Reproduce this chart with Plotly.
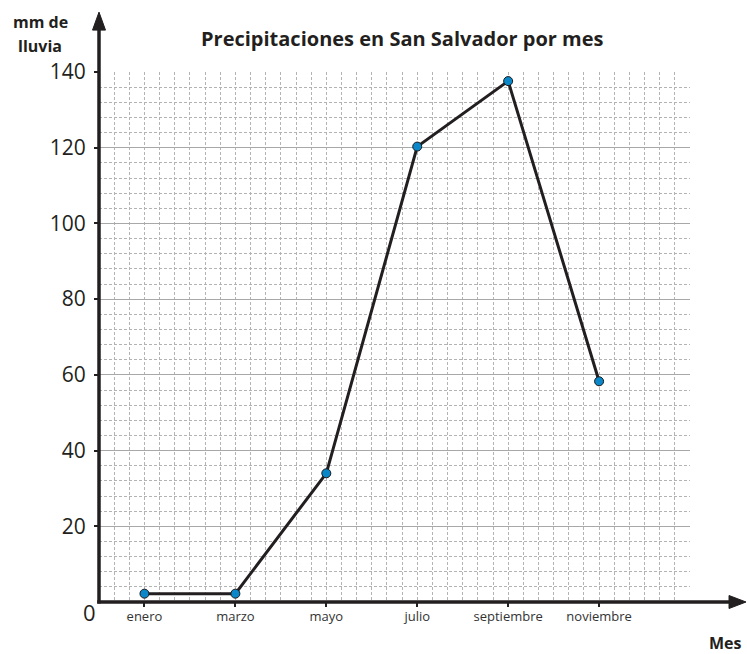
import plotly.graph_objects as go

months = ["enero", "marzo", "mayo", "julio", "septiembre", "noviembre"]
month_pos = [0, 2, 4, 6, 8, 10]
rain_mm = [2.2, 2.2, 34, 120.3, 137.6, 58.3]
y_ticks = [20, 40, 60, 80, 100, 120, 140]

FONT = "Open Sans"
INK = "#231f20"
GRID = "#b3b3b3"

fig = go.Figure()
fig.add_trace(go.Scatter(
    x=month_pos, y=rain_mm, mode="lines+markers",
    line=dict(color=INK, width=3),
    marker=dict(size=9, color="#0a87c9", line=dict(color="#1a1a1a", width=1)),
    cliponaxis=False, hoverinfo="skip",
))

fig.update_layout(
    width=747, height=654,
    margin=dict(l=99, r=57, t=72, b=52),
    paper_bgcolor="white", plot_bgcolor="white",
    showlegend=False,
    font=dict(family=FONT, color=INK),
    xaxis=dict(
        range=[-1, 12], showline=False, zeroline=False,
        tickmode="array", tickvals=month_pos, ticktext=months,
        ticks="outside", ticklen=4, tickwidth=2, tickcolor=INK,
        tickfont=dict(size=13, color="#333333", family=FONT),
        ticklabelstandoff=-2,
        showgrid=True, gridcolor=GRID, gridwidth=1, griddash="3px,2px",
        minor=dict(tickmode="linear", tick0=-1, dtick=1/3, showgrid=True,
                   gridcolor=GRID, gridwidth=1, griddash="3px,2px", ticks=""),
    ),
    yaxis=dict(
        range=[0, 140], showline=False, zeroline=False,
        tickmode="array", tickvals=y_ticks,
        ticks="outside", ticklen=4, tickwidth=2, tickcolor=INK,
        tickfont=dict(size=21, color=INK, family=FONT),
        ticklabelstandoff=4,
        showgrid=True, gridcolor="#a8a8a8", gridwidth=1,
        minor=dict(tickmode="linear", tick0=0, dtick=4, showgrid=True,
                   gridcolor=GRID, gridwidth=1, griddash="3px,2px", ticks=""),
    ),
)

# axis lines
fig.add_shape(type="line", xref="paper", yref="paper", x0=-0.003, x1=1.07, y0=0, y1=0,
              line=dict(color=INK, width=3.5))
fig.add_shape(type="line", xref="paper", yref="paper", x0=0, x1=0, y0=-0.003, y1=1.08,
              line=dict(color=INK, width=3.5))
# arrowheads
fig.add_shape(type="path", xref="paper", yref="paper", xsizemode="pixel", ysizemode="pixel",
              xanchor=1.0948, yanchor=0,
              path="M 0 0 L -17 6.5 L -17 -6.5 Z", fillcolor=INK, line=dict(color=INK, width=1))
fig.add_shape(type="path", xref="paper", yref="paper", xsizemode="pixel", ysizemode="pixel",
              xanchor=0, yanchor=1.113,
              path="M 0 0 L -6.5 -18 L 6.5 -18 Z", fillcolor=INK, line=dict(color=INK, width=1))

# texts
fig.add_annotation(text="<b>Precipitaciones en San Salvador por mes</b>", xref="paper", yref="paper",
                   x=(402 - 99) / 591, y=(602 - 38) / 530, xanchor="center", yanchor="middle",
                   showarrow=False, font=dict(size=20, color=INK, family=FONT))
fig.add_annotation(text="<b>mm de</b>", xref="paper", yref="paper",
                   x=(40 - 99) / 591, y=(602 - 22) / 530, xanchor="center", yanchor="middle",
                   showarrow=False, font=dict(size=16, color=INK, family=FONT))
fig.add_annotation(text="<b>lluvia</b>", xref="paper", yref="paper",
                   x=(40 - 99) / 591, y=(602 - 46) / 530, xanchor="center", yanchor="middle",
                   showarrow=False, font=dict(size=16, color=INK, family=FONT))
fig.add_annotation(text="0", xref="paper", yref="paper",
                   x=(89 - 99) / 591, y=(602 - 612) / 530, xanchor="center", yanchor="middle",
                   showarrow=False, font=dict(size=22, color=INK, family=FONT))
fig.add_annotation(text="<b>Mes</b>", xref="paper", yref="paper",
                   x=(744 - 99) / 591, y=(602 - 643) / 530, xanchor="right", yanchor="middle",
                   showarrow=False, font=dict(size=16, color=INK, family=FONT))

fig.write_html("out.html", config={"displayModeBar": False},
               post_script="document.body.style.margin='0';")
